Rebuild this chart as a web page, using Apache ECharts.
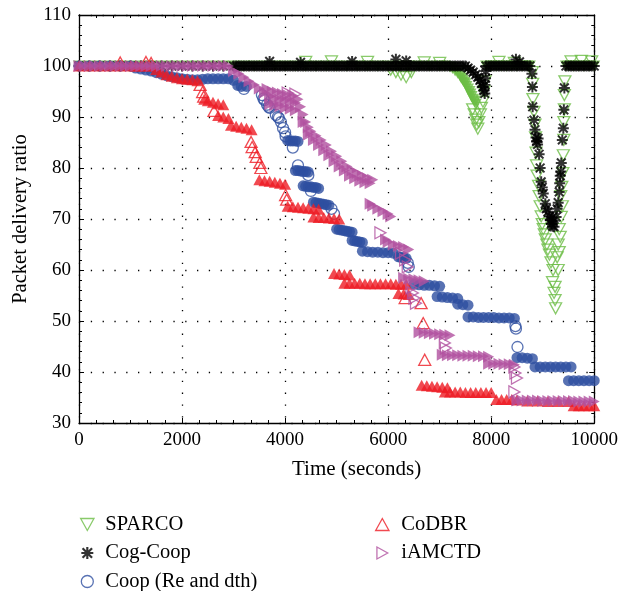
<!DOCTYPE html>
<html><head><meta charset="utf-8">
<script src="https://cdn.jsdelivr.net/npm/echarts@6/dist/echarts.min.js"></script>
<style>html,body{margin:0;padding:0;background:#fff}#c{width:621px;height:591px}</style>
</head><body><div id="c"></div>
<script>
// ---- data: [time (s), packet delivery ratio] ----
const sparcoBand = [
[0,100],[200,100],[400,100],[600,100],[800,100],[1000,100],[1200,100],[1400,100],[1600,100],[1800,100],[2000,100],[2200,100],[2400,100],[2600,100],[2800,100],[3000,100],[3200,100],[3400,100],[3600,100],[3800,100],[4000,100],[4200,100],[4400,100],[4600,100],[4800,100],[5000,100],[5200,100],[5400,100],[5600,100],[5800,100],[6000,100],[6200,100],[6400,100],[6600,100],[6800,100],[7000,100],[7100,100],
[7200,99.8],[7250,99.5],[7300,99],[7350,98.6],[7400,98],[7420,97.6],[7450,97.2],[7480,96.8],[7500,96.5],[7520,96],[7550,95.5],[7580,95],[7600,94.5],[7620,94],[7650,93.5],[7680,93],[7700,92.5],
[7900,100],[8000,100],[8100,100],[8200,100],[8300,100],[8400,100],[8500,100],[8600,100],[8700,100],[8750,100],
[9450,100],[9500,100],[9600,100],[9700,100],[9800,100],[9900,100],[10000,100]
];
const sparcoLoose = [
[4400,100.8],[4900,100.9],[5600,100.8],[6700,100.7],[7000,100.6],[8150,100.8],[8450,100.6],[9550,100.9],[9750,101],[9950,100.9],
[6050,99.3],[6150,98.8],[6250,98.3],[6350,97.8],[6450,98.8],
[7640,91.5],[7670,90.5],[7700,89.5],[7720,88.5],[7740,87.7],[7760,89],[7790,90.5],[7810,91.8],[7840,93],[7860,95],[7880,97],
[8800,98.8],[8805,96.5],[8810,93.5],[8830,91],[8850,88.5],[8860,86],[8870,83],[8880,80.5],[8890,78.5],[8920,76.5],[8930,74.5],[8950,72.5],[8970,70.5],[8990,69],[9010,68],[9030,67],[9050,66],[9080,65],[9100,64],[9130,63],[9160,61.5],
[9200,60],[9190,57.6],[9240,56.7],[9220,55.5],[9240,54.1],[9250,52.5],
[9300,60],[9280,62.5],[9320,63.5],[9300,65],[9340,66.5],[9320,68],[9360,70.4],[9380,72.5],[9350,74.5],[9370,76.3],[9390,79],[9400,82.5],[9410,85.5],[9410,89],[9420,91.5],[9420,94.3],[9430,97]
];
const cogBand = [
[0,100],[200,100],[400,100],[600,100],[800,100],[1000,100],[1200,100],[1400,100],[1600,100],[1800,100],[2000,100],[2200,100],[2400,100],[2600,100],[2800,100],[3000,100],
[3050,100],[3100,100],[3150,100],[3200,100],[3250,100],[3300,100],[3350,100],[3400,100],[3450,100],[3500,100],[3550,100],[3600,100],[3650,100],[3700,100],[3750,100],[3800,100],[3850,100],[3900,100],[3950,100],[4000,100],
[4050,100],[4100,100],[4150,100],[4200,100],[4250,100],[4300,100],[4350,100],[4400,100],[4450,100],[4500,100],[4550,100],[4600,100],[4650,100],[4700,100],[4750,100],[4800,100],[4850,100],[4900,100],[4950,100],[5000,100],
[5050,100],[5100,100],[5150,100],[5200,100],[5250,100],[5300,100],[5350,100],[5400,100],[5450,100],[5500,100],[5550,100],[5600,100],[5650,100],[5700,100],[5750,100],[5800,100],[5850,100],[5900,100],[5950,100],[6000,100],
[6050,100],[6100,100],[6150,100],[6200,100],[6250,100],[6300,100],[6350,100],[6400,100],[6450,100],[6500,100],[6550,100],[6600,100],[6650,100],[6700,100],[6750,100],[6800,100],[6850,100],[6900,100],[6950,100],[7000,100],
[7050,100],[7100,100],[7150,100],[7200,100],[7250,100],[7300,100],[7350,100],[7400,100],[7450,100],[7500,100],
[7550,99.6],[7600,99.2],[7650,98.8],[7700,98.3],[7740,97.8],[7780,97.2],[7810,96.6],[7840,95.9],[7860,95.2],[7875,94.6],
[7900,100],[7950,100],[8000,100],[8050,100],[8100,100],[8150,100],[8200,100],[8250,100],[8300,100],[8350,100],[8400,100],[8450,100],[8500,100],[8550,100],[8600,100],[8650,100],[8700,100],[8750,100],
[9450,100],[9500,100],[9550,100],[9600,100],[9650,100],[9700,100],[9750,100],[9800,100],[9850,100],[9900,100],[9950,100],[10000,100]
];
const cogLoose = [
[3700,100.9],[4300,100.7],[5300,100.9],[6150,101.3],[6350,101],[8480,101.3],[8550,100.8],
[7880,96.3],[7890,97.6],[7895,99],
[8790,98.5],[8800,95.9],[8805,92],[8830,89.4],[8850,87.5],[8870,86],[8880,85.2],[8900,84.6],[8910,85.8],[8930,82.7],[8950,80],[8970,77.3],[8990,76.2],[9010,75],[9050,73],[9070,72],[9100,71.4],[9130,70.5],[9150,69.8],[9170,69],[9190,68.6],[9200,69.6],[9180,70.3],[9220,68.5],
[9260,70.4],[9280,72],[9300,73.2],[9320,75.3],[9330,77],[9340,78.5],[9350,79.3],[9360,81],[9380,85.5],[9400,87.8],[9410,91.4],[9420,95.7]
];
const coopBand = [
[0,100],[200,100],[400,100],[600,100],[800,100],[1000,100],
[1100,99.6],[1200,99.4],[1300,99.2],[1400,99],[1500,98.7],[1600,98.4],[1700,98.1],[1800,97.9],[1900,97.7],[2000,97.5],[2100,97.4],[2200,97.3],[2300,97.3],[2400,97.4],[2500,97.5],[2600,97.5],[2700,97.5],[2800,97.5],[2900,97.5],[3000,97.2],[3080,96.2],[3150,96],[3250,96],
[4050,85.4],[4100,85.3],[4150,85.3],[4200,85.3],[4250,85.2],
[4200,79.5],[4250,79.5],[4300,79.4],[4350,79.3],[4400,79.3],[4450,79.2],
[4350,76.5],[4400,76.4],[4450,76.3],[4500,76.3],[4550,76.2],[4600,76.2],[4650,76],
[4550,73.3],[4600,73.2],[4650,73.1],[4700,73],[4750,72.9],[4800,72.8],[4850,72.7],
[5000,68],[5050,67.9],[5100,67.8],[5150,67.7],[5200,67.6],[5250,67.5],[5300,67.4],
[5300,65.8],[5350,65.7],[5400,65.6],[5450,65.5],[5500,65.4],
[5500,63.7],[5600,63.6],[5700,63.5],[5800,63.5],[5900,63.4],[6000,63.4],[6100,63.3],
[6200,62.6],[6250,62.5],[6300,62.4],[6350,62.3],
[6500,57.2],[6600,57.1],[6700,57],[6800,57],[6900,56.9],[7000,56.8],
[6950,54.8],[7050,54.7],[7150,54.6],[7250,54.5],[7350,54.4],
[7350,53.3],[7450,53.2],[7550,53.1],
[7550,50.8],[7650,50.8],[7750,50.7],[7850,50.7],[7950,50.7],[8050,50.7],[8150,50.6],[8250,50.6],[8350,50.6],[8450,50.5],
[8500,42.8],[8600,42.8],[8700,42.7],[8800,42.6],
[8850,41],[8950,41],[9050,41],[9150,41],[9250,41],[9350,41],[9450,41],[9550,41],
[9500,38.3],[9600,38.3],[9700,38.3],[9800,38.3],[9900,38.3],[10000,38.3]
];
const coopLoose = [
[3200,95.5],[3550,94.3],[3580,93.6],[3600,93.3],[3650,92.4],[3680,92],[3700,91.8],[3820,90.4],[3860,90],[3880,89.8],[3920,89],[3960,87.8],[4000,87],[4010,86.2],
[4150,84],[4250,80.5],[4450,78.6],[4500,75.5],[4900,72],[4950,71],
[6380,61.4],[6400,60.6],[8470,49],[8480,48.5],[8510,44.9]
];
const codbrBand = [
[0,100],[200,100],[400,100],[600,100],[800,100],[1000,100],[1100,100],[1200,100],[1300,100],[1400,100],
[1500,99.3],[1600,98.8],[1700,98.3],[1800,98],[1900,97.7],[2000,97.5],[2100,97.4],[2200,97.3],[2300,97.1],
[2430,93.5],[2500,93.2],[2600,92.9],[2700,92.6],[2800,92.4],
[2700,90.3],[2800,90],[2900,89.7],
[2950,88.4],[3050,88.2],[3150,88],[3250,87.8],[3350,87.5],
[3500,77.7],[3600,77.5],[3700,77.4],[3800,77.2],[3900,77],[4000,76.8],
[4050,72.5],[4150,72.4],[4250,72.3],[4350,72.2],[4450,72.1],[4550,72],[4650,71.9],
[4550,70.4],[4650,70.3],[4750,70.3],[4850,70.2],[4950,70.1],[5050,70],
[4950,59.3],[5050,59.2],[5150,59.1],[5250,59],
[5150,57.4],[5250,57.4],[5350,57.4],[5450,57.4],[5550,57.3],[5650,57.3],[5750,57.3],[5850,57.3],[5950,57.3],[6050,57.3],[6150,57.2],[6250,57.2],[6350,57.2],
[6200,55.4],[6300,55.3],[6400,55.2],
[6650,37.4],[6750,37.3],[6850,37.2],[6950,37.1],[7050,37],[7150,36.9],
[7100,36.1],[7200,36.1],[7300,36.1],[7400,36.1],[7500,36],[7600,36],[7700,36],[7800,36],[7900,36],[8000,36],
[8100,34.6],[8200,34.6],[8300,34.6],[8400,34.6],[8500,34.5],[8700,34.3],[8900,34.3],[9100,34.2],[9300,34.2],[9500,34.2],
[9600,33.4],[9700,33.4],[9800,33.4],[9900,33.4],[10000,33.4]
];
const codbrLoose = [
[800,100.7],[1300,100.8],[1400,100.6],
[2350,96.3],[2400,94.9],[2420,94],[2620,91.2],
[3340,85.1],[3360,84.1],[3420,83.1],[3440,82.2],[3510,81],[3530,80],
[4010,74.7],[4030,73.8],
[6330,54.5],[6640,53.5],[6680,49.6],[6710,42.4]
];
const iamctdBand = [
[0,100],[100,100],[200,100],[300,100],[400,100],[500,100],[600,100],[700,100],[800,100],[900,100],[1000,100],[1100,100],[1200,100],[1300,100],[1400,100],[1500,100],[1600,100],[1700,100],[1800,100],[1900,100],[2000,100],[2100,100],[2200,100],[2300,100],[2400,100],[2500,100],[2600,100],[2700,100],[2800,100],[2900,100],
[3000,99],[3100,98.5],[3200,97.8],[3300,97],[3400,96.3],[3500,95.6],[3600,94.8],[3700,94],[3800,93.6],[3900,93.4],[4000,93.2],[4100,93],[4200,92.8],[4300,92],[4350,90.5],[4400,89],[4450,88],[4500,87.2],[4600,86.3],[4700,85.5],[4800,84.5],[4900,83.3],[5000,82.3],[5100,81.3],[5200,80.3],[5300,79.5],[5400,79],[5500,78.5],[5600,78],[5700,77.7],
[3650,95.5],[3750,95],[3850,94.8],[3950,94.5],[4050,94.3],[4150,94.2],[4250,93.5],
[3700,92.5],[3800,92.3],[3900,92.1],[4000,91.8],[4100,91.6],[4200,91.3],
[4350,89],[4450,86.5],[4550,85.5],[4650,84.5],[4750,83.5],[4850,82.5],[4950,81.3],[5050,80.3],[5150,79.5],[5250,78.5],[5350,78],[5450,77.5],[5550,77.2],[5650,77],
[5650,73],[5700,72.6],[5800,72],[5900,71.5],[6000,71],[6050,70.5],
[5950,66],[6000,65.5],[6100,65],[6200,64.7],[6300,64.5],[6400,64],
[6300,58.5],[6400,58.3],[6500,58.2],[6600,58],[6700,57.8],
[6600,47.8],[6700,47.7],[6800,47.6],[6900,47.5],[7000,47.4],[7100,47.3],[7200,47.2],
[7050,43.4],[7150,43.3],[7250,43.3],[7350,43.3],[7450,43.2],[7550,43.2],[7650,43.2],[7750,43.1],[7850,43.1],[7950,43],
[7950,41.6],[8050,41.6],[8150,41.6],[8250,41.5],[8350,41.5],[8450,41.4],
[8500,34.4],[8600,34.4],[8700,34.4],[8800,34.4],[8900,34.4],[9000,34.3],[9100,34.3],[9200,34.3],[9300,34.3],[9400,34.3],[9500,34.3],[9600,34.3],[9700,34.2],[9800,34.2],[9900,34.2],[10000,34.2]
];
const iamctdLoose = [
[4050,94.7],[4200,94.5],[5850,67.3],[6250,63.3],[6330,62],[6380,60.6],
[6450,56.5],[6480,55.5],[6510,54.5],[6540,53.5],[7100,45.7],[7120,44.7],
[8450,41],[8470,39.8],[8500,38.8],[8450,36.1]
];
const seriesNames = ['SPARCO','Cog-Coop','Coop (Re and dth)','CoDBR','iAMCTD'];
const xTicks = {min:0, max:10000, interval:2000};
const yTicks = {min:30, max:110, interval:10};

// ---- styling ----
const FONT = 'Liberation Serif';
const GREEN = '#6cbd45', BLACK = '#000000', BLUE = '#2e4fa0', RED = '#ed1c24', MAG = '#b0509f';
const DOWN = 'path://M0,0L10,0L5,9Z';
const UP = 'path://M5,0L10,9L0,9Z';
const RIGHT = 'path://M0,0L9,5L0,10Z';
const STAR = 'path://M0,41L100,41L100,59L0,59Z M41,0L59,0L59,100L41,100Z M4,17L17,4L96,83L83,96Z M83,4L96,17L17,96L4,83Z';
const CLEAR = 'rgba(0,0,0,0)';

function sc(name, data, symbol, size, color, hollow) {
  return {
    name, type:'scatter', data, symbol, symbolSize:size, xAxisIndex:0, yAxisIndex:0,
    silent:true, animation:false,
    itemStyle: hollow ? {color:CLEAR, borderColor:color, borderWidth:1.3} : {color:color, borderWidth:0}
  };
}
const series = [
  sc(seriesNames[0], sparcoBand, DOWN, [12,11], GREEN, false),
  sc(seriesNames[0], sparcoLoose, DOWN, [12,11], GREEN, true),
  sc(seriesNames[1], cogBand, STAR, 11, BLACK, false),
  sc(seriesNames[1], cogLoose, STAR, 11, BLACK, false),
  sc(seriesNames[2], coopBand, 'circle', 11, BLUE, false),
  sc(seriesNames[2], coopLoose, 'circle', 11, BLUE, true),
  sc(seriesNames[3], codbrBand, UP, [12,11], RED, false),
  sc(seriesNames[3], codbrLoose, UP, [12,11], RED, true),
  sc(seriesNames[4], iamctdBand, RIGHT, [11,12], MAG, false),
  sc(seriesNames[4], iamctdLoose, RIGHT, [11,12], MAG, true)
];
const axisLine = {show:true, onZero:false, lineStyle:{color:'#000', width:1.3}};
const tick = {show:true, inside:true, length:5, lineStyle:{color:'#000', width:1}};
const minor = (n)=>({show:true, splitNumber:n, length:3, lineStyle:{color:'#000', width:1}});
const dots = {show:true, lineStyle:{color:'#000', width:1.3, type:[1.3,10.5]}};
const label = {color:'#000', fontFamily:FONT, fontSize:19, margin:8, formatter:(v)=>String(v)};
const legendText = {color:'#000', fontFamily:FONT, fontSize:20.5, lineHeight:20};
function legItem(name, icon, color, hollow){
  return {name, icon, itemStyle: hollow ? {color:CLEAR, borderColor:color, borderWidth:1.3} : {color:color, borderWidth:0}};
}
const option = {
  backgroundColor:'#fff',
  animation:false,
  grid:{left:79, top:15, right:24, bottom:168, containLabel:false},
  xAxis:[
    {type:'value', min:xTicks.min, max:xTicks.max, interval:xTicks.interval, position:'bottom',
     axisLine, axisTick:tick, minorTick:minor(6), splitLine:dots, axisLabel:label,
     name:'Time (seconds)', nameLocation:'middle', nameGap:36,
     nameTextStyle:{color:'#000', fontFamily:FONT, fontSize:21, padding:[0,0,0,40]}},
    {type:'value', min:xTicks.min, max:xTicks.max, interval:xTicks.interval, position:'top',
     axisLine, axisTick:tick, minorTick:minor(6), splitLine:{show:false}, axisLabel:{show:false}}
  ],
  yAxis:[
    {type:'value', min:yTicks.min, max:yTicks.max, interval:yTicks.interval, position:'left',
     axisLine, axisTick:tick, minorTick:minor(5), splitLine:dots, axisLabel:label,
     name:'Packet delivery ratio', nameLocation:'middle', nameGap:48,
     nameTextStyle:{color:'#000', fontFamily:FONT, fontSize:20.5}},
    {type:'value', min:yTicks.min, max:yTicks.max, interval:yTicks.interval, position:'right',
     axisLine, axisTick:tick, minorTick:minor(5), splitLine:{show:false}, axisLabel:{show:false}}
  ],
  legend:[
    {left:80, top:514, width:250, height:90, padding:0, orient:'vertical', itemWidth:26, itemHeight:12, itemGap:7.5, textStyle:legendText,
     data:[legItem(seriesNames[0], DOWN, GREEN, true), legItem(seriesNames[1], STAR, BLACK, false), legItem(seriesNames[2], 'circle', BLUE, true)]},
    {left:375, top:514, width:200, height:90, padding:0, orient:'vertical', itemWidth:28, itemHeight:12, itemGap:7.5, textStyle:legendText,
     data:[legItem(seriesNames[3], UP, RED, true), legItem(seriesNames[4], RIGHT, MAG, true)]}
  ],
  series
};
const chart = echarts.init(document.getElementById('c'));
chart.setOption(option);
</script></body></html>
